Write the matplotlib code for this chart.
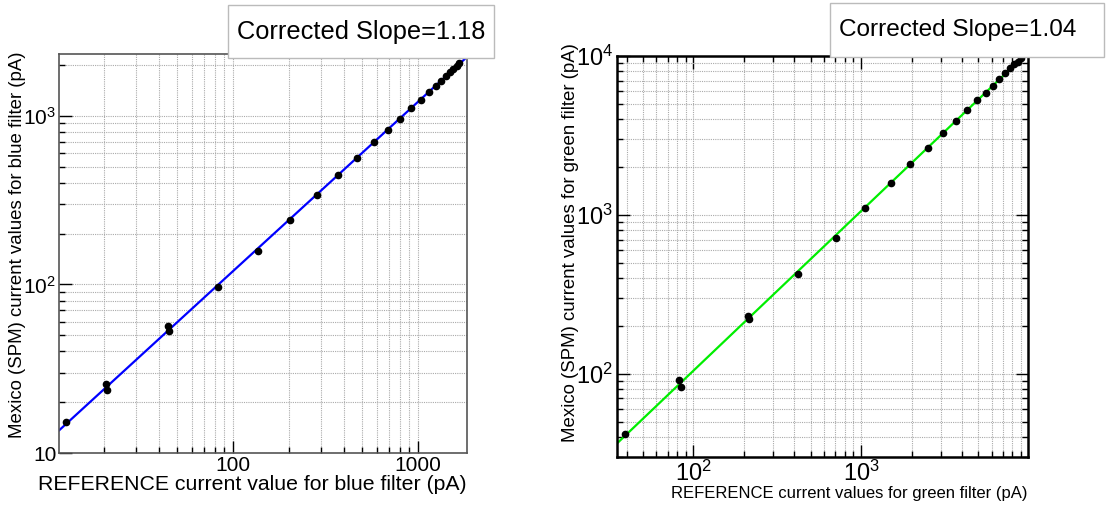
import numpy as np
import matplotlib
matplotlib.use("Agg")
import matplotlib.pyplot as plt
from matplotlib.patches import Rectangle
from matplotlib.ticker import FixedLocator, FuncFormatter, NullFormatter

plt.rcParams['font.family'] = ['Liberation Sans', 'DejaVu Sans']

# blue filter: reference current vs Mexico (SPM) current, pA
blue_ref = [12.6, 20.7, 21.0, 44.7, 44.9, 83.3, 137, 203, 283, 371, 470, 578, 686,
            800, 913, 1035, 1147, 1247, 1332, 1412, 1490, 1552, 1618, 1672]
blue_spm = [15.2, 25.7, 23.7, 56.6, 52.6, 96.8, 158, 242, 339, 443, 564, 697, 828,
            961, 1109, 1242, 1390, 1502, 1607, 1721, 1829, 1905, 1977, 2041]

# green filter
green_ref = [39.2, 81.5, 84.5, 211, 213, 419, 710, 1056, 1504, 1960, 2500, 3100, 3690,
             4310, 4900, 5560, 6150, 6680, 7220, 7740, 8170, 8590, 8950]
green_spm = [41.8, 92, 82.8, 231, 220, 428, 719, 1107, 1585, 2080, 2650, 3280, 3880,
             4560, 5250, 5870, 6470, 7120, 7780, 8360, 8870, 9230, 9680]

blue_slope_text = "Corrected Slope=1.18"
green_slope_text = "Corrected Slope=1.04"


def minor_list(lo, hi):
    out = []
    for d in [1, 10, 100, 1000, 10000]:
        for m in range(1, 10):
            v = m * d
            if lo <= v <= hi:
                out.append(v)
    return out


def sup_fmt(v, pos):
    e = int(round(np.log10(v)))
    return r"$\mathregular{10^{%d}}$" % e


def draw(ax, xs, ys, color, xlim, ylim):
    ax.set_xscale('log')
    ax.set_yscale('log')
    ax.set_xlim(*xlim)
    ax.set_ylim(*ylim)
    ax.xaxis.set_minor_locator(FixedLocator(minor_list(*xlim)))
    ax.yaxis.set_minor_locator(FixedLocator(minor_list(*ylim)))
    ax.xaxis.set_minor_formatter(NullFormatter())
    ax.yaxis.set_minor_formatter(NullFormatter())
    ax.grid(True, which='both', color='#aaaaaa', linestyle=(0, (1, 1)), linewidth=0.8)
    ax.set_axisbelow(True)
    # straight-line fit in log-log space
    p = np.polyfit(np.log10(xs), np.log10(ys), 1)
    fx = np.logspace(np.log10(xlim[0]), np.log10(xlim[1]), 50)
    ax.plot(fx, 10 ** np.polyval(p, np.log10(fx)), color=color, lw=1.6, zorder=2)
    ax.plot(xs, ys, 'o', color='black', ms=4.5, zorder=3)


fig = plt.figure(figsize=(11.1, 5.09), dpi=100)

# left: blue
ax1 = fig.add_axes([0.0532, 0.110, 0.3675, 0.784])
draw(ax1, blue_ref, blue_spm, '#0000ff', (11.5, 1840), (10, 2325))
ax1.xaxis.set_major_locator(FixedLocator([100, 1000]))
ax1.xaxis.set_major_formatter(FuncFormatter(lambda v, p: "%d" % v))
ax1.yaxis.set_major_locator(FixedLocator([10, 100, 1000]))
ax1.yaxis.set_major_formatter(FuncFormatter(
    lambda v, p: "10" if v < 50 else sup_fmt(v, p)))
ax1.tick_params(which='major', direction='in', length=9, width=1, labelsize=15, pad=2)
ax1.tick_params(which='minor', direction='in', length=4, width=1)
for s in ax1.spines.values():
    s.set_color('#555555')
    s.set_linewidth(1.2)
ax1.set_xlabel("REFERENCE current value for blue filter (pA)", fontsize=15.3,
               loc='right', labelpad=0)
ax1.set_ylabel("Mexico (SPM) current values for blue filter (pA)", fontsize=13.4,
               loc='top')
ax1.yaxis.set_label_coords(-0.08, 1.005)

# right: green
ax2 = fig.add_axes([0.5559, 0.1022, 0.3702, 0.7878])
draw(ax2, green_ref, green_spm, '#00ee00', (35, 9900), (30, 10000))
ax2.xaxis.set_major_locator(FixedLocator([100, 1000]))
ax2.xaxis.set_major_formatter(FuncFormatter(sup_fmt))
ax2.yaxis.set_major_locator(FixedLocator([100, 1000, 10000]))
ax2.yaxis.set_major_formatter(FuncFormatter(sup_fmt))
ax2.tick_params(which='both', direction='in', top=True, right=True)
ax2.tick_params(which='major', length=9, width=1, labelsize=17, pad=3)
ax2.tick_params(which='minor', length=4, width=1)
for s in ax2.spines.values():
    s.set_color('black')
    s.set_linewidth(1.8)
ax2.set_xlabel("REFERENCE current values for green filter (pA)", fontsize=12,
               loc='right', labelpad=0)
ax2.set_ylabel("Mexico (SPM) current values for green filter (pA)", fontsize=13.4,
               loc='top')
ax2.yaxis.set_label_coords(-0.092, 1.032)

# slope boxes (pixel layout of the reference, figure is 1110 x 509)
W, H = 1110.0, 509.0
for (x0, y0, x1, y1), txt, fs in [((228, 5, 494, 58), blue_slope_text, 18.3),
                                  ((830, 3, 1104, 57), green_slope_text, 17.6)]:
    fig.add_artist(Rectangle((x0 / W, 1 - y1 / H), (x1 - x0) / W, (y1 - y0) / H,
                             transform=fig.transFigure, facecolor='white',
                             edgecolor='#bbbbbb', lw=1))
    fig.text((x0 + 9) / W, 1 - (y0 + y1) / 2 / H, txt, fontsize=fs,
             ha='left', va='center')

fig.savefig('out.png', dpi=100)
